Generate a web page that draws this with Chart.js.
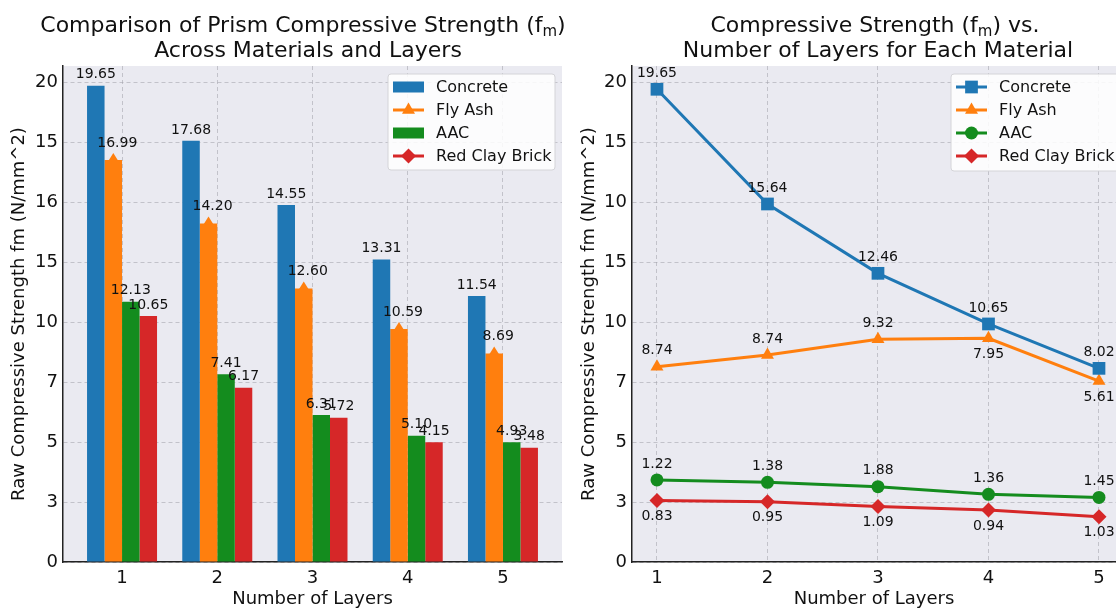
<!DOCTYPE html>
<html>
<head>
<meta charset="utf-8">
<script src="https://cdn.jsdelivr.net/npm/chart.js@4.4.1/dist/chart.umd.min.js"></script>
<style>
body { margin: 0; background: #fff; }
#wrap { position: relative; width: 1116px; height: 610px; overflow: hidden; }
#c1 { position: absolute; left: 0; top: 0; }
#c2 { position: absolute; left: 570px; top: 0; }
</style>
</head>
<body>
<div id="wrap">
  <canvas id="c1" width="570" height="610"></canvas>
  <canvas id="c2" width="546" height="610"></canvas>
</div>
<script>
var layers = [1, 2, 3, 4, 5];
var materials = ['Concrete', 'Fly Ash', 'AAC', 'Red Clay Brick'];
var colors = ['#1f77b4', '#ff7f0e', '#148c1e', '#d62728'];

// tick labels as printed (one per gridline)
var barTickLabels = ['0', '3', '5', '7', '10', '15', '16', '15', '20'];
var lineTickLabels = ['0', '3', '5', '7', '10', '15', '10', '15', '20'];

// bar heights as drawn (axis units, 2.5 per gridline)
var barConcrete = [19.85, 17.55, 14.88, 12.61, 11.08];
var barFlyAsh = [16.75, 14.11, 11.40, 9.71, 8.69];
var barAAC = [10.85, 7.82, 6.13, 5.26, 4.99];
var barRedClay = [10.25, 7.26, 6.01, 4.99, 4.76];

// numbers printed over the bars
var barConcreteText = ['19.65', '17.68', '14.55', '13.31', '11.54'];
var barFlyAshText = ['16.99', '14.20', '12.60', '10.59', '8.69'];
var barAACText = ['12.13', '7.41', '6.31', '5.10', '4.93'];
var barRedClayText = ['10.65', '6.17', '5.72', '4.15', '3.48'];

// line points as drawn
var lineConcrete = [19.70, 14.92, 12.03, 9.92, 8.07];
var lineFlyAsh = [8.14, 8.63, 9.28, 9.32, 7.54];
var lineAAC = [3.42, 3.32, 3.14, 2.82, 2.69];
var lineRedClay = [2.56, 2.51, 2.31, 2.17, 1.89];

// numbers printed next to the points
var lineConcreteText = ['19.65', '15.64', '12.46', '10.65', '8.02'];
var lineFlyAshText = ['8.74', '8.74', '9.32', '7.95', '5.61'];
var lineAACText = ['1.22', '1.38', '1.88', '1.36', '1.45'];
var lineRedClayText = ['0.83', '0.95', '1.09', '0.94', '1.03'];

var FONT = "'DejaVu Sans', sans-serif";
var gridColor = 'rgba(160,160,170,0.55)';
var markers = ['rect', 'triangle', 'circle', 'rectRot'];
var markerSize = [9, 7.5, 6.5, 7.5];

function drawMarker(ctx, style, r, x, y, color) {
  ctx.save();
  ctx.fillStyle = color;
  ctx.beginPath();
  if (style === 'rect') {
    var s = r * Math.SQRT1_2;
    ctx.rect(x - s, y - s, 2 * s, 2 * s);
  } else if (style === 'triangle') {
    ctx.moveTo(x, y - r);
    ctx.lineTo(x + r * 0.866, y + r * 0.5);
    ctx.lineTo(x - r * 0.866, y + r * 0.5);
    ctx.closePath();
  } else if (style === 'circle') {
    ctx.arc(x, y, r, 0, Math.PI * 2);
  } else {
    ctx.moveTo(x, y - r); ctx.lineTo(x + r, y); ctx.lineTo(x, y + r); ctx.lineTo(x - r, y);
    ctx.closePath();
  }
  ctx.fill();
  ctx.restore();
}

var plotBg = {
  id: 'plotBg',
  beforeDraw: function (chart) {
    var a = chart.chartArea, ctx = chart.ctx;
    ctx.save();
    ctx.fillStyle = '#eaeaf1';
    ctx.fillRect(a.left, a.top, a.right - a.left, a.bottom - a.top);
    ctx.restore();
  }
};

// titles with a subscript m
var titleText = {
  id: 'titleText',
  afterDraw: function (chart, args, opts) {
    var ctx = chart.ctx;
    ctx.save();
    ctx.fillStyle = '#111';
    ctx.textBaseline = 'alphabetic';
    opts.lines.forEach(function (ln) {
      var big = '22px ' + FONT, small = '15px ' + FONT;
      var w = 0;
      ln.parts.forEach(function (p) { ctx.font = p.sub ? small : big; w += ctx.measureText(p.t).width; });
      var x = ln.cx - w / 2;
      ln.parts.forEach(function (p) {
        ctx.font = p.sub ? small : big;
        ctx.textAlign = 'left';
        ctx.fillText(p.t, x, ln.y + (p.sub ? 4 : 0));
        x += ctx.measureText(p.t).width;
      });
    });
    ctx.restore();
  }
};

var legendBox = {
  id: 'legendBox',
  afterDraw: function (chart, args, opts) {
    var ctx = chart.ctx;
    ctx.save();
    ctx.fillStyle = 'rgba(255,255,255,0.85)';
    ctx.strokeStyle = '#d4d4d8';
    ctx.lineWidth = 1;
    ctx.beginPath();
    ctx.roundRect(opts.x, opts.y, opts.w, opts.h, 3);
    ctx.fill();
    ctx.stroke();
    ctx.font = '16px ' + FONT;
    ctx.textBaseline = 'middle';
    materials.forEach(function (m, i) {
      var y = opts.y + 13 + i * 23;
      var hx = opts.x + 5;
      var kind = opts.kinds[i];
      if (kind === 'bar') {
        ctx.fillStyle = colors[i];
        ctx.fillRect(hx, y - 5.5, 31, 11);
      } else {
        ctx.strokeStyle = colors[i];
        ctx.lineWidth = 3;
        ctx.beginPath(); ctx.moveTo(hx, y); ctx.lineTo(hx + 31, y); ctx.stroke();
        drawMarker(ctx, markers[i], markerSize[i], hx + 15.5, y, colors[i]);
      }
      ctx.fillStyle = '#111';
      ctx.fillText(m, opts.x + 48, y + 1);
    });
    ctx.restore();
  }
};

var barLabels = {
  id: 'barLabels',
  afterDatasetsDraw: function (chart, args, opts) {
    var ctx = chart.ctx;
    ctx.save();
    // triangular tips on the Fly Ash bars
    chart.getDatasetMeta(1).data.forEach(function (el) {
      ctx.fillStyle = colors[1];
      ctx.beginPath();
      ctx.moveTo(el.x - 5, el.y + 1);
      ctx.lineTo(el.x, el.y - 7);
      ctx.lineTo(el.x + 5, el.y + 1);
      ctx.closePath();
      ctx.fill();
    });
    ctx.font = '14px ' + FONT;
    ctx.fillStyle = '#111';
    ctx.textAlign = 'center';
    ctx.textBaseline = 'middle';
    opts.texts.forEach(function (arr, d) {
      chart.getDatasetMeta(d).data.forEach(function (el, i) {
        var dy = d === 1 ? 17 : 11;
        ctx.fillText(arr[i], el.x + (d === 1 ? 4 : 0), el.y - dy);
      });
    });
    ctx.restore();
  }
};

var pointLabels = {
  id: 'pointLabels',
  afterDatasetsDraw: function (chart, args, opts) {
    var ctx = chart.ctx;
    ctx.save();
    ctx.font = '14px ' + FONT;
    ctx.fillStyle = '#111';
    ctx.textAlign = 'center';
    ctx.textBaseline = 'middle';
    opts.texts.forEach(function (arr, d) {
      chart.getDatasetMeta(d).data.forEach(function (el, i) {
        var below = opts.below[d][i];
        ctx.fillText(arr[i], el.x, el.y + (below ? 16 : -16));
      });
    });
    ctx.restore();
  }
};

function yAxis(labels, width) {
  return {
    min: 0, max: 20.67,
    ticks: {
      stepSize: 2.5, includeBounds: false, padding: 5, color: '#111',
      font: { family: FONT, size: 18 },
      callback: function (v) { return labels[Math.round(v / 2.5)]; }
    },
    grid: { color: gridColor, drawTicks: false },
    border: { color: '#222', width: 1.5, dash: [4, 3] },
    title: {
      display: true, text: 'Raw Compressive Strength fm (N/mm^2)', color: '#111',
      font: { family: FONT, size: 18 }, padding: { top: 9, bottom: 0 }
    },
    afterFit: function (s) { s.width = width; s.paddingTop = 0; s.paddingBottom = 0; }
  };
}

function xAxis(min, max) {
  return {
    type: 'linear', min: min, max: max, offset: false,
    ticks: { stepSize: 1, includeBounds: false, padding: 6, color: '#111', font: { family: FONT, size: 18 } },
    grid: { color: gridColor, drawTicks: false, offset: false },
    border: { color: '#222', width: 1.5, dash: [4, 3] },
    title: {
      display: true, text: 'Number of Layers', color: '#111',
      font: { family: FONT, size: 18 }, padding: { top: 0, bottom: 0 }
    },
    afterFit: function (s) { s.height = 48; s.paddingLeft = 0; s.paddingRight = 0; }
  };
}

var barValues = [barConcrete, barFlyAsh, barAAC, barRedClay];
new Chart(document.getElementById('c1'), {
  type: 'bar',
  data: {
    labels: layers,
    datasets: materials.map(function (m, i) {
      return {
        label: m, data: barValues[i], backgroundColor: colors[i],
        barPercentage: 1, categoryPercentage: 0.735
      };
    })
  },
  options: {
    responsive: false, animation: false,
    layout: { autoPadding: false, padding: { left: 0, right: 8, top: 66, bottom: 0 } },
    scales: { x: xAxis(0.38, 5.62), y: yAxis(barTickLabels, 63) },
    plugins: {
      legend: { display: false }, tooltip: { enabled: false },
      titleText: { lines: [
        { cx: 303, y: 32, parts: [{ t: 'Comparison of Prism Compressive Strength (f' }, { t: 'm', sub: true }, { t: ')' }] },
        { cx: 308, y: 57, parts: [{ t: 'Across Materials and Layers' }] }
      ] },
      legendBox: { x: 388, y: 74, w: 167, h: 96, kinds: ['bar', 'line', 'bar', 'line'] },
      barLabels: { texts: [barConcreteText, barFlyAshText, barAACText, barRedClayText] }
    }
  },
  plugins: [plotBg, titleText, legendBox, barLabels]
});

var lineValues = [lineConcrete, lineFlyAsh, lineAAC, lineRedClay];
new Chart(document.getElementById('c2'), {
  type: 'line',
  data: {
    labels: layers,
    datasets: materials.map(function (m, i) {
      return {
        label: m, data: lineValues[i], borderColor: colors[i], backgroundColor: colors[i],
        borderWidth: 3, pointStyle: markers[i], pointRadius: markerSize[i],
        pointBorderWidth: 0, tension: 0, fill: false, clip: false
      };
    })
  },
  options: {
    responsive: false, animation: false,
    layout: { autoPadding: false, padding: { left: 0, right: 0, top: 66, bottom: 0 } },
    scales: { x: xAxis(0.774, 5.154), y: yAxis(lineTickLabels, 62) },
    plugins: {
      legend: { display: false }, tooltip: { enabled: false },
      titleText: { lines: [
        { cx: 305, y: 32, parts: [{ t: 'Compressive Strength (f' }, { t: 'm', sub: true }, { t: ') vs.' }] },
        { cx: 308, y: 57, parts: [{ t: 'Number of Layers for Each Material' }] }
      ] },
      legendBox: { x: 381, y: 74, w: 170, h: 97, kinds: ['line', 'line', 'line', 'line'] },
      pointLabels: {
        texts: [lineConcreteText, lineFlyAshText, lineAACText, lineRedClayText],
        below: [
          [false, false, false, false, false],
          [false, false, false, true, true],
          [false, false, false, false, false],
          [true, true, true, true, true]
        ]
      }
    }
  },
  plugins: [plotBg, titleText, legendBox, pointLabels]
});
</script>
</body>
</html>
